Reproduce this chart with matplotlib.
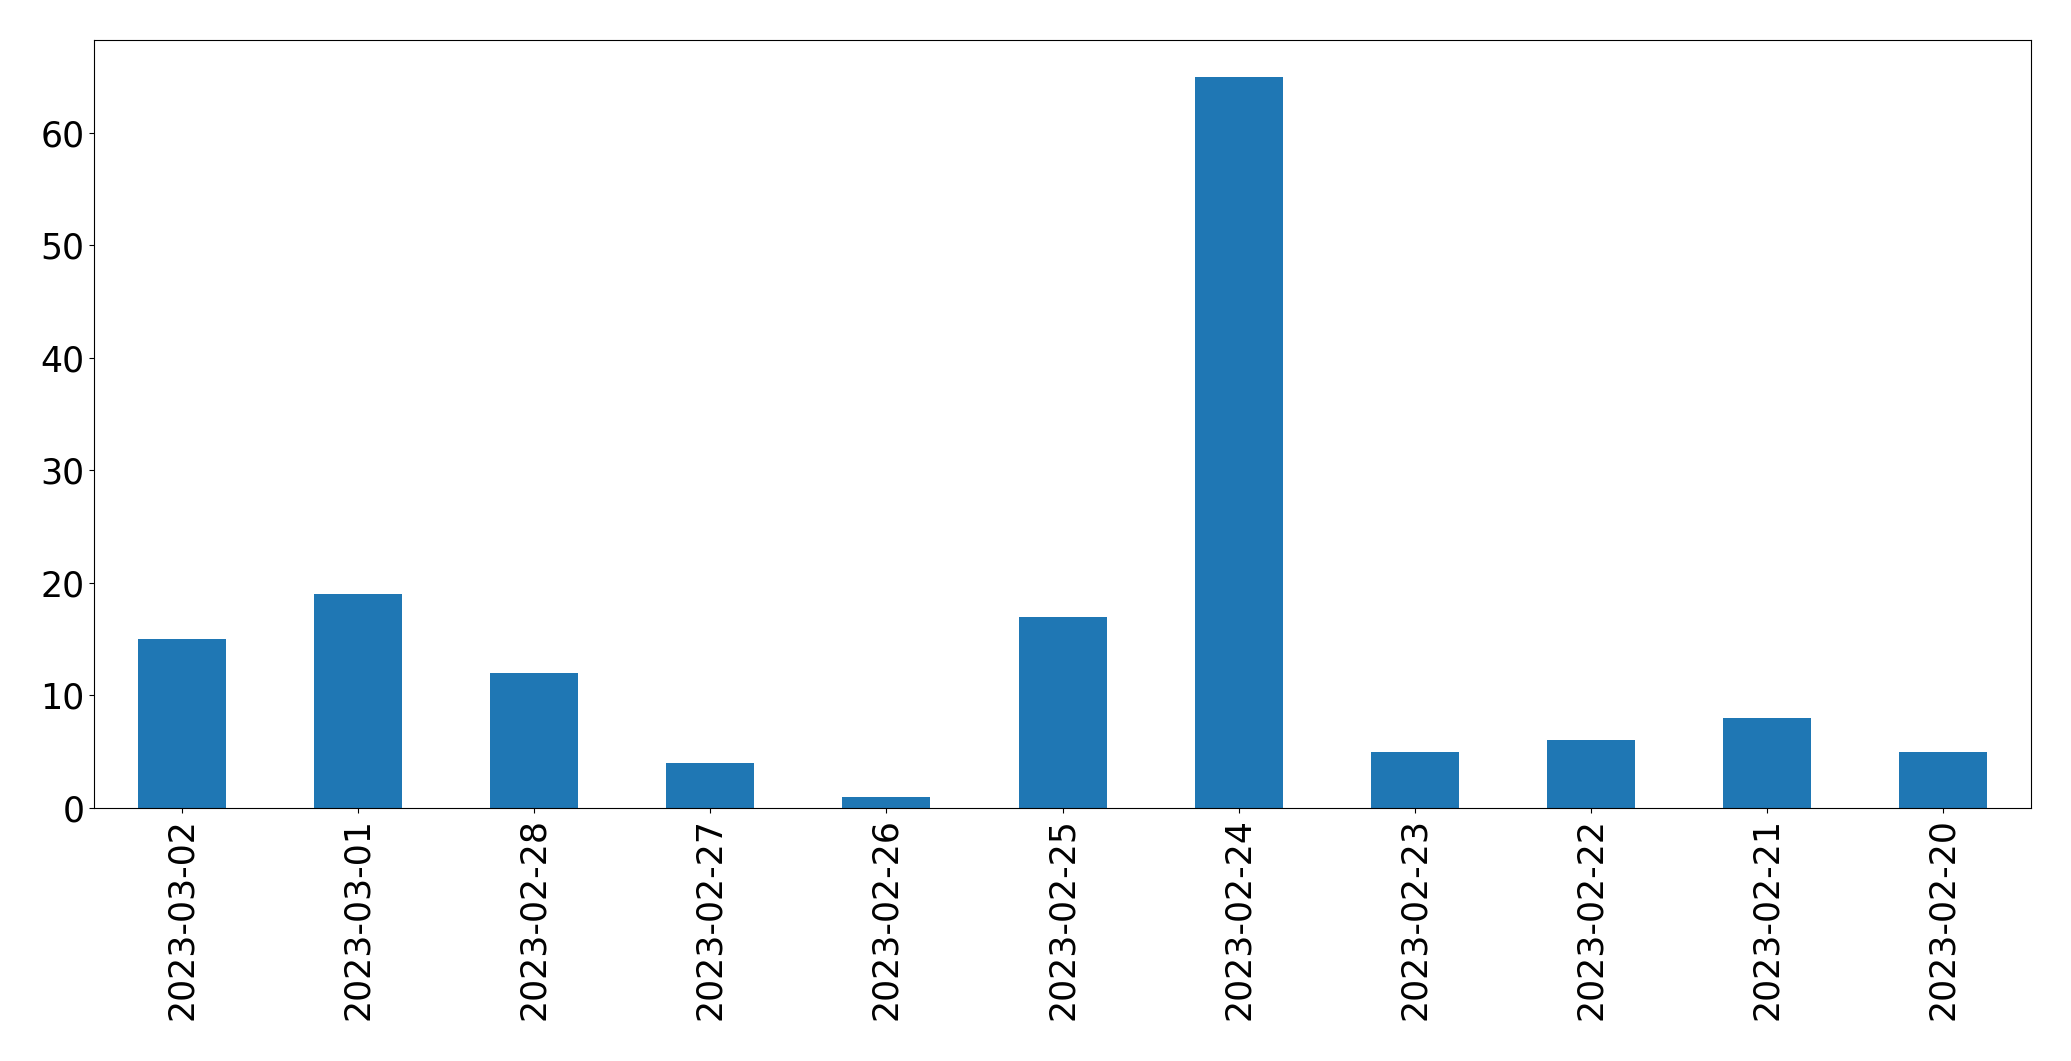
import pandas as pd
import matplotlib
matplotlib.use('Agg')
import matplotlib.pyplot as plt

dates = ['2023-03-02', '2023-03-01', '2023-02-28', '2023-02-27', '2023-02-26', '2023-02-25',
         '2023-02-24', '2023-02-23', '2023-02-22', '2023-02-21', '2023-02-20']
counts = [15, 19, 12, 4, 1, 17, 65, 5, 6, 8, 5]

s = pd.Series(counts, index=dates)

fig, ax = plt.subplots(figsize=(20.71, 10.61), dpi=100)
s.plot(kind='bar', ax=ax, color='#1f77b4', fontsize=25)
fig.subplots_adjust(left=0.0454, right=0.9807, top=0.9623, bottom=0.2385)

fig.savefig('out.png')
